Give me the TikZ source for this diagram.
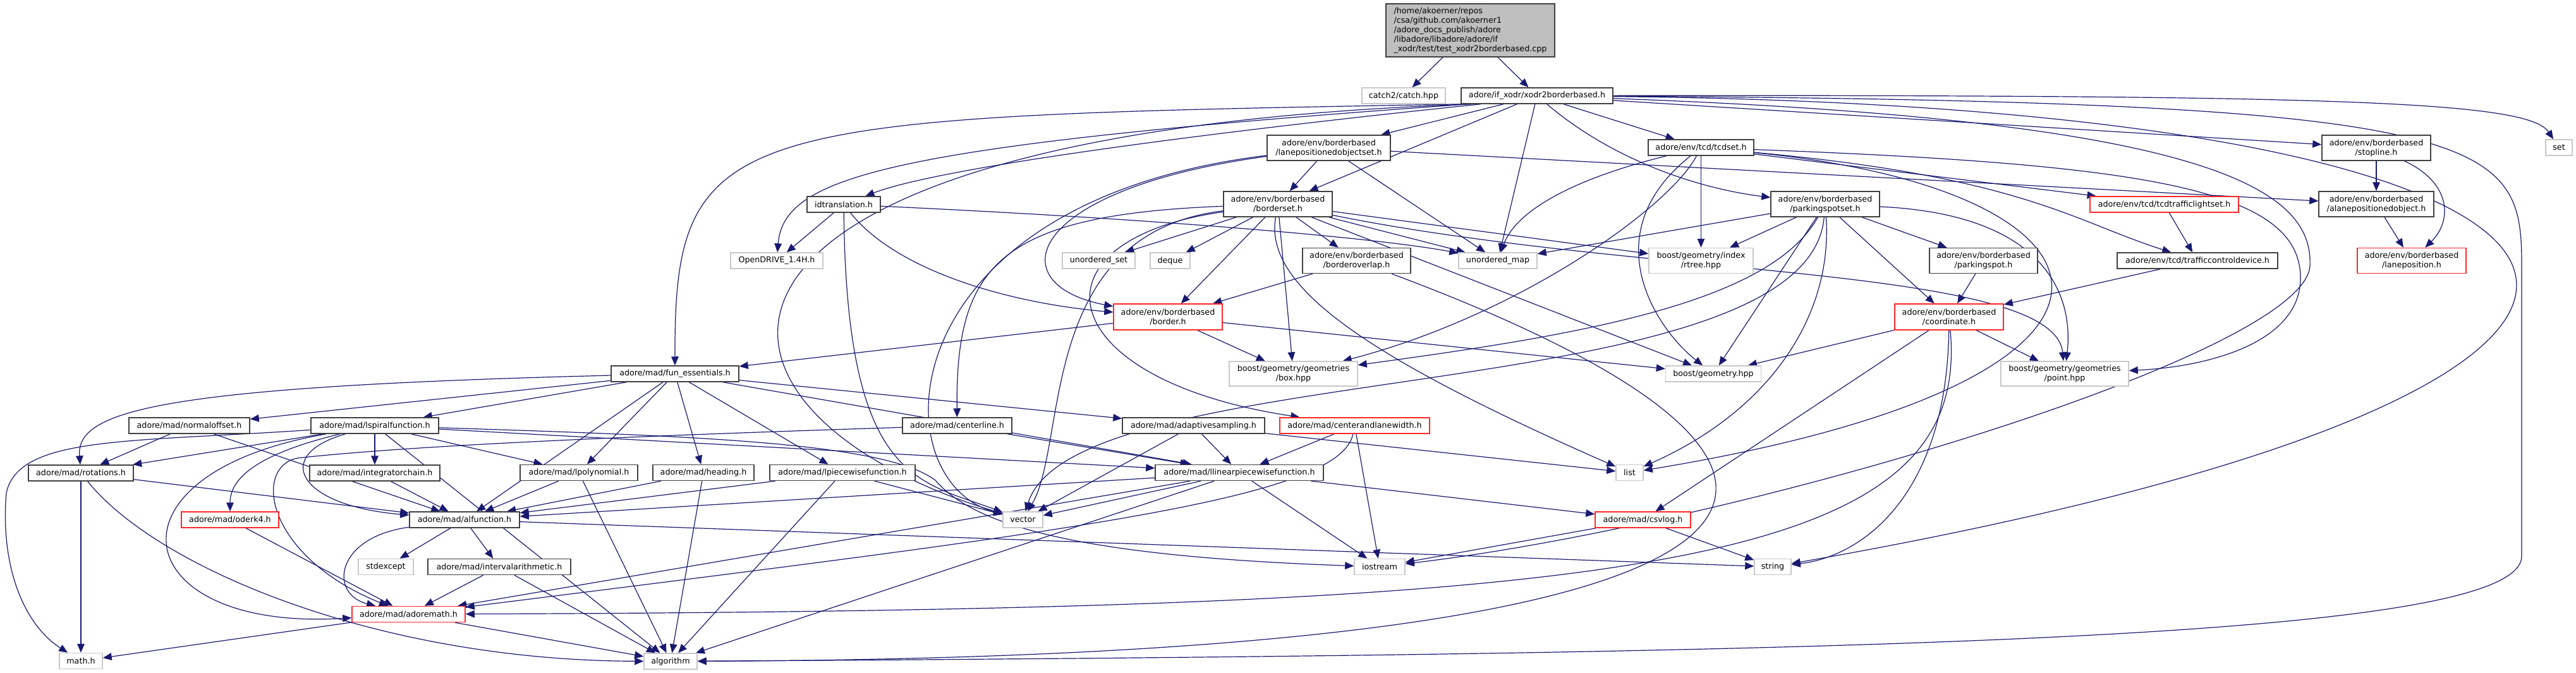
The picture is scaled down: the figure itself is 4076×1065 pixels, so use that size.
\documentclass[tikz,border=0pt]{standalone}
\usepackage{fontspec}
\setmainfont{DejaVu Sans}
\usetikzlibrary{arrows.meta,backgrounds}
\definecolor{edgeblue}{RGB}{25,25,112}
\definecolor{fillgray}{RGB}{191,191,191}
\definecolor{linegray}{RGB}{200,200,200}
\definecolor{boxdark}{RGB}{64,64,64}
\definecolor{boxred}{RGB}{255,40,40}

\tikzset{
  inc/.style={draw=boxdark,line width=0.75pt,fill=white,inner xsep=1pt,inner ysep=0.5pt,
              align=center,font=\fontsize{6.35pt}{7.5pt}\selectfont},
  trunc/.style={inc,draw=boxred},
  sys/.style={inc,draw=linegray},
  sz/.style 2 args={minimum width=#1*0.5pt,minimum height=#2*0.5pt},
  dep/.style={draw=edgeblue,line width=0.6pt,-{Triangle[length=7pt,width=5.8pt]}},
}

\begin{document}
\begin{tikzpicture}[x=0.5pt,y=-0.5pt]
  \useasboundingbox (0,0) rectangle (4076,1065);

  % top rows: test file and adore/env headers
  \node[inc,fill=fillgray,sz={267}{84},align=left] (top) at (2326.5,48)
    {/home/akoerner/repos\\/csa/github.com/akoerner1\\/adore\_docs\_publish/adore\\/libadore/libadore/adore/if\\\_xodr/test/test\_xodr2borderbased.cpp};
  \node[sys,sz={132}{25}] (catch) at (2221,151.5) {catch2/catch.hpp};
  \node[inc,sz={240}{25}] (xodr) at (2432,151.5) {adore/if\_xodr/xodr2borderbased.h};
  \node[inc,sz={195}{40}] (lposset) at (2102.5,234) {adore/env/borderbased\\/lanepositionedobjectset.h};
  \node[inc,sz={116}{25}] (idtrans) at (1335,323.5) {idtranslation.h};
  \node[sys,sz={146}{25}] (opendrive) at (1229,412.5) {OpenDRIVE\_1.4H.h};
  \node[inc,sz={172}{40}] (borderset) at (2022,323) {adore/env/borderbased\\/borderset.h};
  \node[sys,sz={115}{25}] (uset) at (1738.5,412.5) {unordered\_set};
  \node[sys,sz={63}{25}] (deque) at (1851.5,412.5) {deque};
  \node[trunc,sz={172}{41}] (border) at (1848,501.5) {adore/env/borderbased\\/border.h};
  \node[inc,sz={171}{40}] (overlap) at (2146.5,412.5) {adore/env/borderbased\\/borderoverlap.h};
  \node[sys,sz={124}{25}] (umap) at (2370,412.5) {unordered\_map};
  \node[inc,sz={167}{25}] (tcdset) at (2691.5,233.5) {adore/env/tcd/tcdset.h};
  \node[sys,sz={165}{40}] (rtree) at (2691.5,412.5) {boost/geometry/index\\/rtree.hpp};
  \node[inc,sz={172}{40}] (pspotset) at (2888,323) {adore/env/borderbased\\/parkingspotset.h};
  \node[trunc,sz={235}{25}] (tcdtls) at (3424.5,323.5) {adore/env/tcd/tcdtrafficlightset.h};
  \node[inc,sz={171}{40}] (pspot) at (3138.5,412.5) {adore/env/borderbased\\/parkingspot.h};
  \node[inc,sz={254}{25}] (tcddev) at (3477,412.5) {adore/env/tcd/trafficcontroldevice.h};
  \node[trunc,sz={172}{41}] (coord) at (3084,501.5) {adore/env/borderbased\\/coordinate.h};
  \node[inc,sz={172}{40}] (stopline) at (3760,234) {adore/env/borderbased\\/stopline.h};
  \node[inc,sz={182}{40}] (alpo) at (3760,323) {adore/env/borderbased\\/alanepositionedobject.h};
  \node[trunc,sz={172}{40}] (lanepos) at (3816,412.5) {adore/env/borderbased\\/laneposition.h};
  \node[sys,sz={42}{25}] (set) at (4049,233.5) {set};

  % lower rows: adore/mad headers and system headers
  \node[inc,sz={202}{25}] (funess) at (1068,591.5) {adore/mad/fun\_essentials.h};
  \node[sys,sz={203}{39}] (box) at (2046.5,591.5) {boost/geometry/geometries\\/box.hpp};
  \node[sys,sz={151}{25}] (geom) at (2711,591.5) {boost/geometry.hpp};
  \node[sys,sz={202}{39}] (point) at (3267,591.5) {boost/geometry/geometries\\/point.hpp};
  \node[inc,sz={191}{25}] (normoff) at (299.5,673.5) {adore/mad/normaloffset.h};
  \node[inc,sz={202}{25}] (lspiral) at (593,673.5) {adore/mad/lspiralfunction.h};
  \node[inc,sz={173}{25}] (centerline) at (1514.5,673.5) {adore/mad/centerline.h};
  \node[inc,sz={225}{25}] (adapt) at (1888.5,673.5) {adore/mad/adaptivesampling.h};
  \node[trunc,sz={237}{25}] (calw) at (2143.5,673.5) {adore/mad/centerandlanewidth.h};
  \node[inc,sz={166}{25}] (rot) at (128,748.5) {adore/mad/rotations.h};
  \node[inc,sz={206}{25}] (intchain) at (593,748.5) {adore/mad/integratorchain.h};
  \node[inc,sz={186}{25}] (lpoly) at (916,748) {adore/mad/lpolynomial.h};
  \node[inc,sz={160}{25}] (heading) at (1113,748) {adore/mad/heading.h};
  \node[inc,sz={230}{25}] (lpiece) at (1333,748) {adore/mad/lpiecewisefunction.h};
  \node[inc,sz={266}{25}] (llinear) at (1961,748) {adore/mad/llinearpiecewisefunction.h};
  \node[sys,sz={43}{25}] (list) at (2578.5,748) {list};
  \node[trunc,sz={154}{25}] (oderk) at (364,822.5) {adore/mad/oderk4.h};
  \node[inc,sz={174}{25}] (alfun) at (735,822.5) {adore/mad/alfunction.h};
  \node[sys,sz={63}{25}] (vector) at (1618.5,822.5) {vector};
  \node[trunc,sz={151}{25}] (csvlog) at (2599.5,822.5) {adore/mad/csvlog.h};
  \node[sys,sz={87}{25}] (stdexc) at (610.5,897) {stdexcept};
  \node[inc,sz={226}{25}] (interval) at (790,897) {adore/mad/intervalarithmetic.h};
  \node[sys,sz={80}{25}] (iostream) at (2183,897) {iostream};
  \node[sys,sz={58}{25}] (string) at (2805,897) {string};
  \node[trunc,sz={179}{25}] (admath) at (646.5,972) {adore/mad/adoremath.h};
  \node[sys,sz={68}{25}] (mathh) at (128,1046) {math.h};
  \node[sys,sz={84}{25}] (algo) at (1061,1046.5) {algorithm};

  \begin{scope}[on background layer]
    % straight includes
    \foreach \from/\to in {top/catch, top/xodr,
        xodr/lposset, xodr/borderset, xodr/umap, xodr/tcdset, xodr/stopline,
        idtrans/opendrive,
        lposset/borderset, lposset/umap, lposset/alpo,
        borderset/uset, borderset/deque, borderset/border, borderset/overlap,
        borderset/umap, borderset/rtree, borderset/box, borderset/geom,
        border/box, border/geom, border/funess, overlap/border,
        tcdset/rtree, tcdset/tcdtls,
        pspotset/rtree, pspotset/umap, pspotset/pspot, pspotset/coord, pspotset/geom,
        tcdtls/tcddev, tcddev/coord, pspot/coord,
        stopline/alpo, alpo/lanepos,
        coord/geom, coord/point, coord/csvlog,
        funess/normoff, funess/lspiral, funess/alfun, funess/lpoly, funess/heading,
        funess/lpiece, funess/adapt, funess/llinear,
        normoff/rot, normoff/alfun,
        lspiral/rot, lspiral/intchain, lspiral/lpoly, lspiral/algo, lspiral/llinear,
        rot/mathh, rot/alfun, intchain/alfun, oderk/admath,
        alfun/stdexc, alfun/interval, alfun/string,
        interval/admath, interval/algo, admath/mathh, admath/algo,
        lpoly/alfun, lpoly/algo, heading/alfun, heading/algo,
        lpiece/alfun, lpiece/algo, lpiece/vector,
        centerline/llinear, adapt/llinear, adapt/vector, adapt/list,
        calw/llinear, calw/iostream,
        llinear/alfun, llinear/vector, llinear/admath, llinear/algo,
        llinear/csvlog, llinear/iostream,
        csvlog/iostream, csvlog/string}
      \draw[dep] (\from) -- (\to);

    % curved includes
    \draw[dep] ([xshift=2pt]xodr.south west) .. controls (1150,185) and (1067,190) .. (funess);
    \draw[dep] ([xshift=6pt]xodr.south west) .. controls (1400,230) and (1240,280) .. (opendrive);
    \draw[dep] ([xshift=10pt]xodr.south west) .. controls (1000,210) and (1050,650) .. (vector);
    \draw[dep] ([xshift=16pt]xodr.south west) .. controls (2000,200) and (1500,260) .. (idtrans);
    \draw[dep] (xodr) .. controls (2560,260) and (2700,300) .. (pspotset);
    \draw[dep] (xodr) .. controls (3700,150) and (4000,160) .. (set);
    \draw[dep] (xodr) .. controls (4300,170) and (4500,600) .. (string);
    \draw[dep] (xodr) .. controls (3500,190) and (3660,300) .. (3655,420)
                      .. controls (3650,560) and (2750,830) .. (iostream);
    \draw[dep] (xodr) .. controls (3950,160) and (3990,220) .. (3990,420) -- (3990,880)
                      .. controls (3990,1010) and (3000,1035) .. (algo);
    \draw[dep] (idtrans) .. controls (1420,430) and (1600,480) .. (border);
    \draw[dep] (idtrans) .. controls (1340,760) and (1450,760) .. (vector);
    \draw[dep] (idtrans) .. controls (1900,350) and (2200,380) .. (umap);
    \draw[dep] (lposset) .. controls (1620,300) and (1580,450) .. (border);
    \draw[dep] (lposset) .. controls (1400,320) and (1390,760) .. (vector);
    \draw[dep] (borderset) .. controls (1640,370) and (1690,700) .. (vector);
    \draw[dep] (borderset) .. controls (1580,340) and (1512,420) .. (centerline);
    \draw[dep] (borderset) .. controls (1620,380) and (1660,600) .. (calw);
    \draw[dep] (borderset) .. controls (2600,440) and (3250,420) .. (point);
    \draw[dep] (borderset) .. controls (2000,450) and (2150,560) .. (list);
    \draw[dep] (tcdset) .. controls (3400,260) and (3640,300) .. (3640,440)
                        .. controls (3640,540) and (3500,580) .. (point);
    \draw[dep] (tcdset) .. controls (3380,300) and (3480,600) .. (list);
    \draw[dep] (tcdset) .. controls (3200,280) and (3280,350) .. (tcddev);
    \draw[dep] (tcdset) .. controls (2500,280) and (2400,330) .. (umap);
    \draw[dep] (tcdset) .. controls (2640,330) and (2400,500) .. (box);
    \draw[dep] (tcdset) .. controls (2520,370) and (2620,520) .. (geom);
    \draw[dep] (pspotset) .. controls (3250,340) and (3280,480) .. (point);
    \draw[dep] (pspotset) .. controls (2860,650) and (1700,560) .. (vector);
    \draw[dep] (pspotset) .. controls (2900,500) and (2800,650) .. (list);
    \draw[dep] (pspotset) .. controls (2800,480) and (2500,530) .. (box);
    \draw[dep] (coord) .. controls (3080,780) and (2950,880) .. (string);
    \draw[dep] (coord) .. controls (3120,900) and (2600,965) .. (admath);
    \draw[dep] (overlap) .. controls (3050,750) and (2950,1040) .. (algo);
    \draw[dep] (stopline) .. controls (3880,290) and (3880,350) .. (lanepos);
    \draw[dep] (funess) .. controls (250,612) and (120,650) .. (rot);
    \draw[dep] (lspiral) .. controls (200,700) and (30,690) .. (10,780)
                         .. controls (0,900) and (40,990) .. (mathh);
    \draw[dep] (lspiral) .. controls (400,720) and (364,760) .. (oderk);
    \draw[dep] (lspiral) .. controls (150,750) and (200,1000) .. (admath);
    \draw[dep] (lspiral) .. controls (430,720) and (470,800) .. (alfun);
    \draw[dep] (lspiral) .. controls (1100,690) and (1400,700) .. (1480,760)
                         .. controls (1540,830) and (1700,880) .. (iostream);
    \draw[dep] (rot) .. controls (250,900) and (600,1045) .. (algo);
    \draw[dep] (centerline) .. controls (1000,690) and (650,705) .. (470,725)
                            .. controls (400,740) and (420,880) .. (admath);
    \draw[dep] (alfun) .. controls (530,850) and (520,940) .. (admath);
    \draw[dep] (calw) .. controls (2120,790) and (1700,840) .. (admath);
  \end{scope}
\end{tikzpicture}
\end{document}
